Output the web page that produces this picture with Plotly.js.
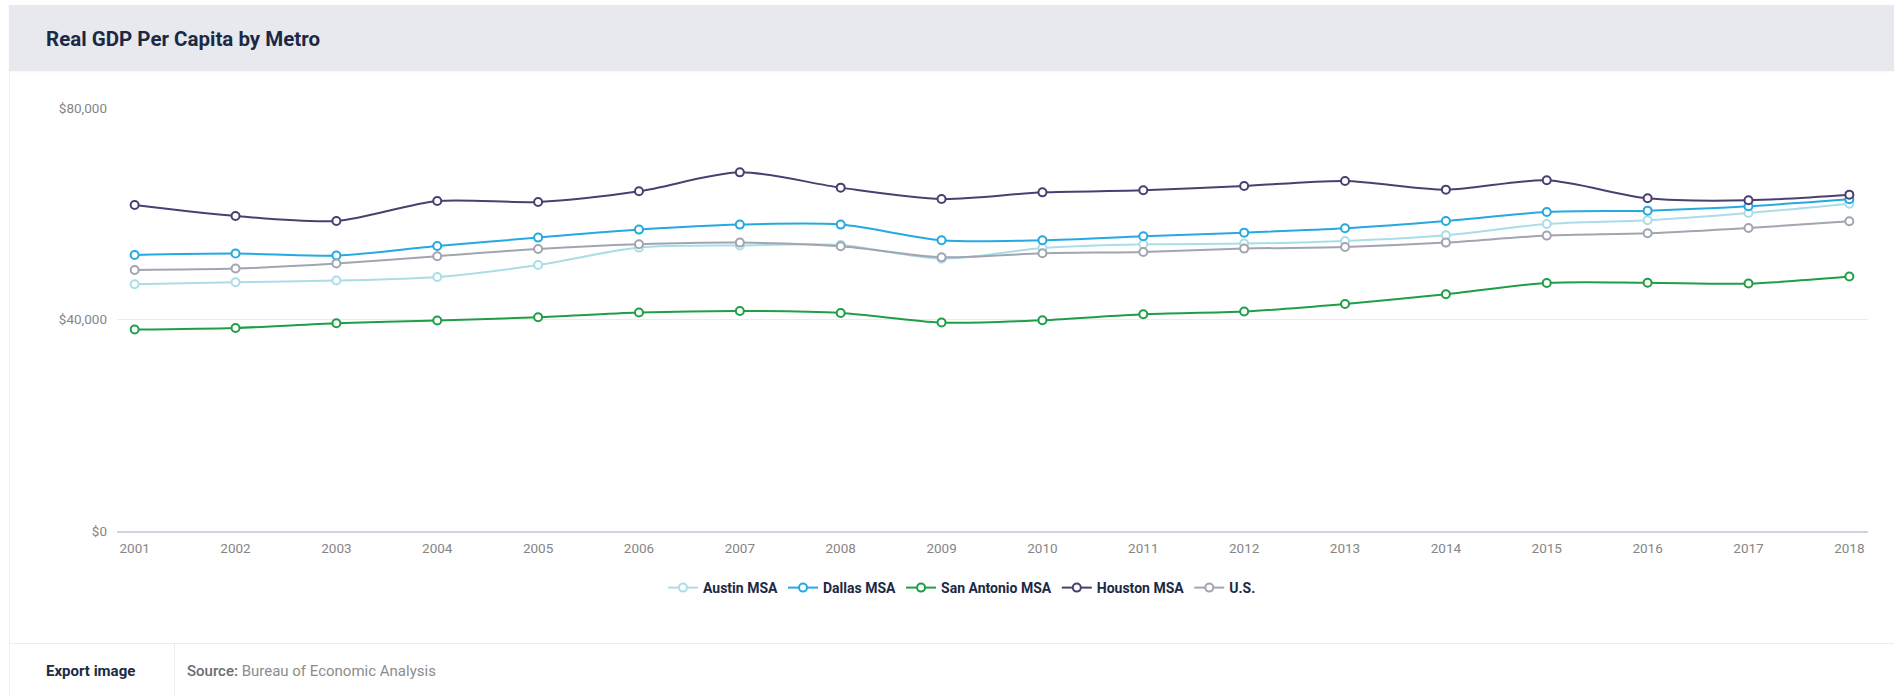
<!DOCTYPE html>
<html>
<head>
<meta charset="utf-8">
<script src="https://cdn.plot.ly/plotly-3.0.1.min.js"></script>
<style>
  html, body { margin: 0; padding: 0; background: #ffffff; }
  body { width: 1894px; height: 697px; position: relative; overflow: hidden; font-family: Roboto, "Open Sans", sans-serif; }
  #card { position: absolute; left: 9px; top: 5px; right: 0; bottom: 0; border-left: 1px solid #f0f1f4; border-top: 1px solid #f0f1f4; }
  #header { position: absolute; left: 9px; top: 5px; right: 0; height: 66px; background: #e7e9ee; box-shadow: 0 1px 2px rgba(0,0,0,0.04); }
  #chart { position: absolute; left: 0; top: 0; width: 1894px; height: 697px; }
  #footer { position: absolute; left: 9px; right: 0; top: 643px; bottom: 0; border-top: 1px solid #ececef; }
  #export { position: absolute; left: 37px; top: 18px; font-size: 15px; font-weight: 700; color: #1e2a45; }
  #divider { position: absolute; left: 165px; top: 0; bottom: 0; border-left: 1px solid #ececef; }
  #source { position: absolute; left: 178px; top: 18px; font-size: 15px; color: #8c8c8c; }
  #source b { font-weight: 500; color: #6d6d6d; }
</style>
</head>
<body>
<div id="card"></div>
<div id="header"></div>
<div id="chart"></div>
<div id="footer">
  <div id="export">Export image</div>
  <div id="divider"></div>
  <div id="source"><b>Source:</b> Bureau of Economic Analysis</div>
</div>
<script>
const years = [2001, 2002, 2003, 2004, 2005, 2006, 2007, 2008, 2009, 2010, 2011, 2012, 2013, 2014, 2015, 2016, 2017, 2018];
const austin  = [46660, 47040, 47360, 48050, 50310, 53600, 54000, 54100, 51500, 53530, 54220, 54350, 54850, 55930, 58060, 58760, 60140, 61910];
const dallas  = [52200, 52470, 52090, 53900, 55490, 57000, 57950, 57950, 54980, 54980, 55740, 56430, 57250, 58630, 60330, 60590, 61410, 62730];
const sanAntonio = [38100, 38400, 39290, 39800, 40430, 41310, 41620, 41240, 39420, 39860, 40990, 41500, 42940, 44770, 46910, 46950, 46800, 48120];
const houston = [61650, 59570, 58630, 62410, 62220, 64240, 67830, 64940, 62790, 64050, 64430, 65240, 66190, 64560, 66320, 62920, 62540, 63610];
const us      = [49370, 49630, 50580, 51960, 53340, 54220, 54540, 53850, 51770, 52520, 52770, 53410, 53710, 54540, 55870, 56300, 57300, 58570];
const seriesNames = ["Austin MSA", "Dallas MSA", "San Antonio MSA", "Houston MSA", "U.S."];
const yTicks = [0, 40000, 80000];
const title = "Real GDP Per Capita by Metro";

const colors = ["#aadde8", "#25a9e0", "#1f9e48", "#4a3f70", "#a2a4b0"];
const data = [austin, dallas, sanAntonio, houston, us];

const traces = data.map((vals, i) => ({
  type: "scatter",
  mode: "lines+markers",
  name: seriesNames[i],
  x: years,
  y: vals,
  line: { color: colors[i], width: 2, shape: "spline", smoothing: 0.8 },
  marker: { symbol: "circle", size: 8, color: "#ffffff", line: { color: colors[i], width: 2 } },
  cliponaxis: false,
  hoverinfo: "skip"
}));

const layout = {
  width: 1894,
  height: 697,
  paper_bgcolor: "rgba(0,0,0,0)",
  plot_bgcolor: "rgba(0,0,0,0)",
  margin: { l: 117, r: 26, t: 108, b: 166, pad: 0 },
  font: { family: "Roboto, 'Open Sans', sans-serif", color: "#858585", size: 13.5 },
  title: {
    text: title,
    x: 46 / 1894, xref: "container", xanchor: "left",
    y: 1 - 39 / 697, yref: "container", yanchor: "middle",
    font: { family: "Roboto, sans-serif", size: 20.5, weight: 700, color: "#1c2944" }
  },
  xaxis: {
    range: [2000.825, 2018.185],
    tickvals: years,
    ticktext: years.map(String),
    showgrid: false,
    zeroline: false,
    showline: true,
    linecolor: "#cdd5e4",
    linewidth: 2,
    ticks: "",
    ticklabelstandoff: 4,
    tickfont: { size: 13.5, color: "#858585" },
    fixedrange: true
  },
  yaxis: {
    range: [0, 80000],
    tickvals: yTicks,
    tickformat: "$,.0f",
    showgrid: true,
    gridcolor: "#ebebeb",
    gridwidth: 1,
    zeroline: false,
    showline: false,
    ticks: "",
    ticklabelstandoff: 9,
    tickfont: { size: 13.5, color: "#858585" },
    fixedrange: true
  },
  showlegend: true,
  legend: {
    orientation: "h",
    x: 962 / 1894, xref: "container", xanchor: "center",
    y: 1 - 588 / 697, yref: "container", yanchor: "middle",
    font: { family: "Roboto, sans-serif", size: 14, weight: 700, color: "#1c2944" },
    itemwidth: 30,
    tracegroupgap: 0,
    bgcolor: "rgba(0,0,0,0)"
  },
  hovermode: false
};

Plotly.newPlot("chart", traces, layout, { displayModeBar: false, staticPlot: true });
</script>
</body>
</html>
